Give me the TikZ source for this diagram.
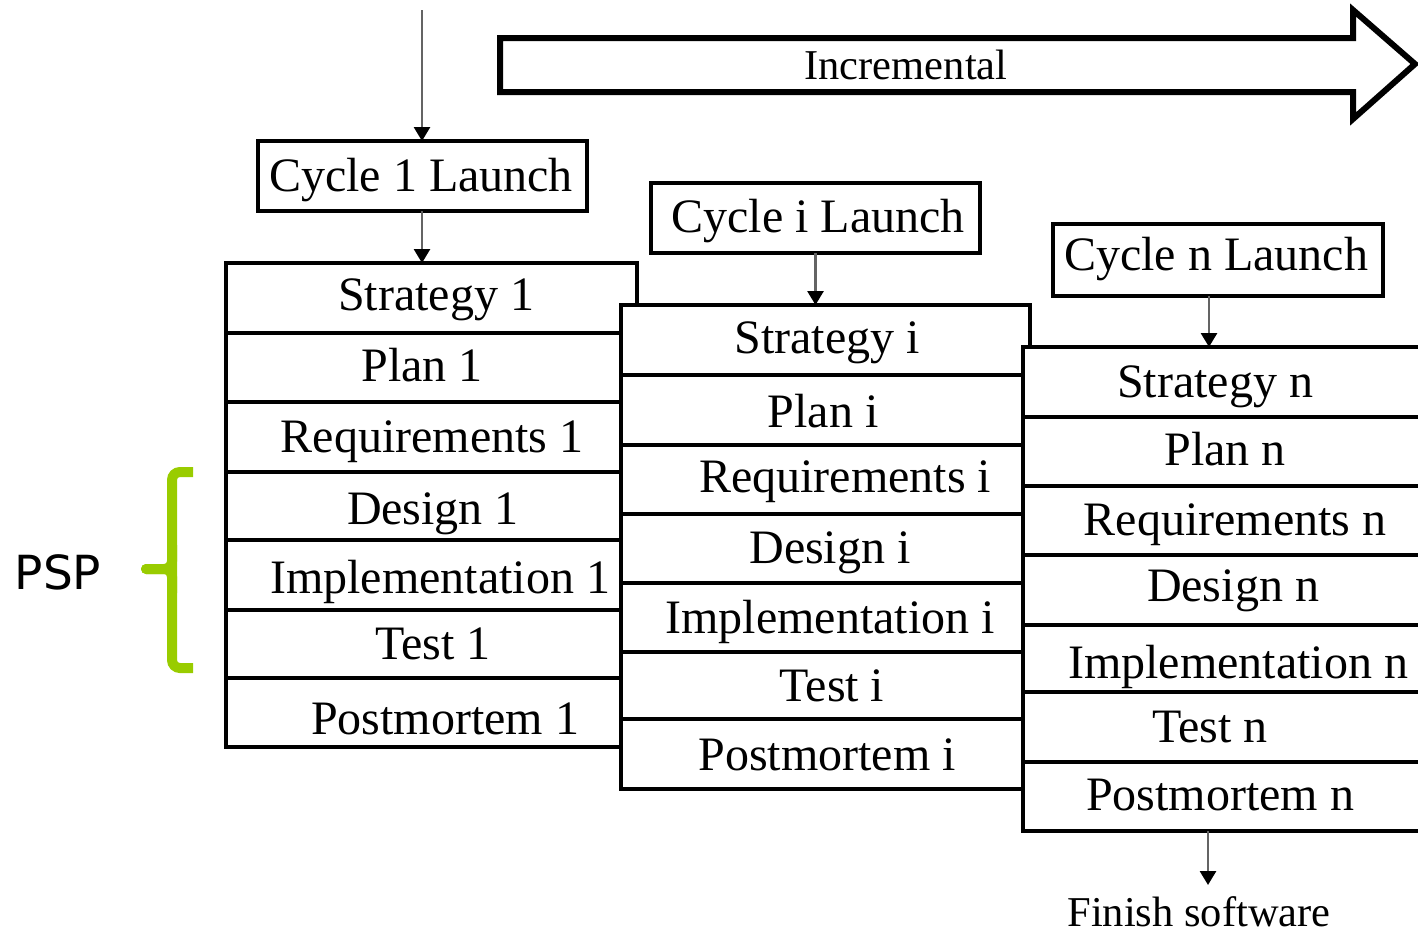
\documentclass[tikz,border=0pt]{standalone}
\usepackage{fontspec}
\setmainfont{Liberation Serif}
\newfontfamily\pspfont{DejaVu Sans}
\usetikzlibrary{arrows.meta}
\definecolor{pspgreen}{RGB}{153,204,0}
\definecolor{connGray}{RGB}{100,100,100}
% \cell{name}{left}{top}{right}{bottom}: an empty framed box, white filled
\newcommand\cell[5]{\node[box, minimum width={(#4-#2)*0.5pt}, minimum height={(#5-#3)*0.5pt}] (#1) at (#2,#3) {};}
\begin{document}
\begin{tikzpicture}[x=0.5pt,y=-0.5pt,
  box/.style={draw, line width=1.7pt, fill=white, inner sep=0pt, outer sep=0pt, anchor=north west, rectangle},
  lbl/.style={anchor=base, inner sep=0pt, font=\fontsize{24pt}{28pt}\selectfont},
  small/.style={anchor=base, inner sep=0pt, font=\fontsize{21.25pt}{25pt}\selectfont},
  conn/.style={draw=connGray, line width=1.4pt, -{Triangle[width=8pt,length=7pt,color=black,fill=black]}}]
\useasboundingbox (0,0) rectangle (1418,937);
\clip (0,0) rectangle (1418,937);

% ---- big "Incremental" arrow ----
\draw[line width=3pt, miter limit=4] (500,38) -- (1353,38) -- (1353,10) -- (1415,64) -- (1353,119) -- (1353,92) -- (500,92) -- cycle;
\node[small] (inc) at (906,79) {Incremental};

% ---- cycle 1 ----
\coordinate (start) at (422,10);
\cell{launch1}{258}{141}{587}{211}
\node[lbl] (tl1) at (421,191) {Cycle 1 Launch};
\cell{s1}{226}{263}{637}{333}
\cell{p1}{226}{333}{621}{402}
\cell{r1}{226}{402}{621}{472}
\cell{d1}{226}{472}{621}{540}
\cell{im1}{226}{540}{621}{610}
\cell{te1}{226}{610}{621}{678}
\cell{pm1}{226}{678}{621}{747}
\node[lbl] (ts1) at (436,310) {Strategy 1};
\node[lbl] (tp1) at (422,381) {Plan 1};
\node[lbl] (tr1) at (432,452) {Requirements 1};
\node[lbl] (td1) at (433,524) {Design 1};
\node[lbl] (tim1) at (440,593) {Implementation 1};
\node[lbl] (tte1) at (433,659) {Test 1};
\node[lbl] (tpm1) at (445,734) {Postmortem 1};
\draw[conn] (start) -- (launch1.north -| start);
\draw[conn] (launch1.south -| start) -- (s1.north -| start);

% ---- cycle i ----
\cell{launchi}{651}{183}{980}{253}
\node[lbl] (tli) at (818,232) {Cycle i Launch};
\cell{si}{621}{305}{1030}{375}
\cell{pi}{621}{375}{1023}{445}
\cell{ri}{621}{445}{1023}{514}
\cell{di}{621}{514}{1023}{583}
\cell{imi}{621}{583}{1023}{652}
\cell{tei}{621}{652}{1023}{719}
\cell{pmi}{621}{719}{1023}{789}
\node[lbl] (tsi) at (827,353) {Strategy i};
\node[lbl] (tpi) at (823,427) {Plan i};
\node[lbl] (tri) at (845,492) {Requirements i};
\node[lbl] (tdi) at (830,563) {Design i};
\node[lbl] (timi) at (830,633) {Implementation i};
\node[lbl] (ttei) at (832,701) {Test i};
\node[lbl] (tpmi) at (827,770) {Postmortem i};
\draw[conn] (launchi.south) -- (si.north -| launchi.south);

% ---- cycle n ----
\cell{launchn}{1053}{224}{1383}{296}
\node[lbl] (tln) at (1216,270) {Cycle n Launch};
\cell{sn}{1023}{347}{1440}{417}
\cell{pn}{1023}{417}{1440}{486}
\cell{rn}{1023}{486}{1440}{555}
\cell{dn}{1023}{555}{1440}{625}
\cell{imn}{1023}{625}{1440}{692}
\cell{ten}{1023}{692}{1440}{762}
\cell{pmn}{1023}{762}{1440}{831}
\node[lbl] (tsn) at (1215,397) {Strategy n};
\node[lbl] (tpn) at (1225,465) {Plan n};
\node[lbl] (trn) at (1235,535) {Requirements n};
\node[lbl] (tdn) at (1233,601) {Design n};
\node[lbl] (timn) at (1238,678) {Implementation n};
\node[lbl] (tten) at (1210,742) {Test n};
\node[lbl] (tpmn) at (1220,810) {Postmortem n};
\coordinate (ndrop) at (1209,300);
\draw[conn] (launchn.south -| ndrop) -- (sn.north -| ndrop);

% ---- finish ----
\coordinate (finend) at (1208,885);
\draw[conn] (pmn.south -| finend) -- (finend);
\node[small] (fin) at (1199,926) {Finish software};

% ---- PSP bracket ----
\draw[pspgreen, line width=5pt, rounded corners=4pt] (193,472) -- (172,472) -- (172,668) -- (193,668);
\draw[pspgreen, line width=5pt, rounded corners=4pt, line cap=round] (172,545) -- (172,569) -- (146,569);
\draw[pspgreen, line width=5pt, rounded corners=4pt, line cap=round] (172,593) -- (172,569) -- (146,569);
\node[anchor=base, inner sep=0pt, font=\pspfont\fontsize{23.5pt}{28pt}\selectfont] (psp) at (58,589) {PSP};
\end{tikzpicture}
\end{document}
